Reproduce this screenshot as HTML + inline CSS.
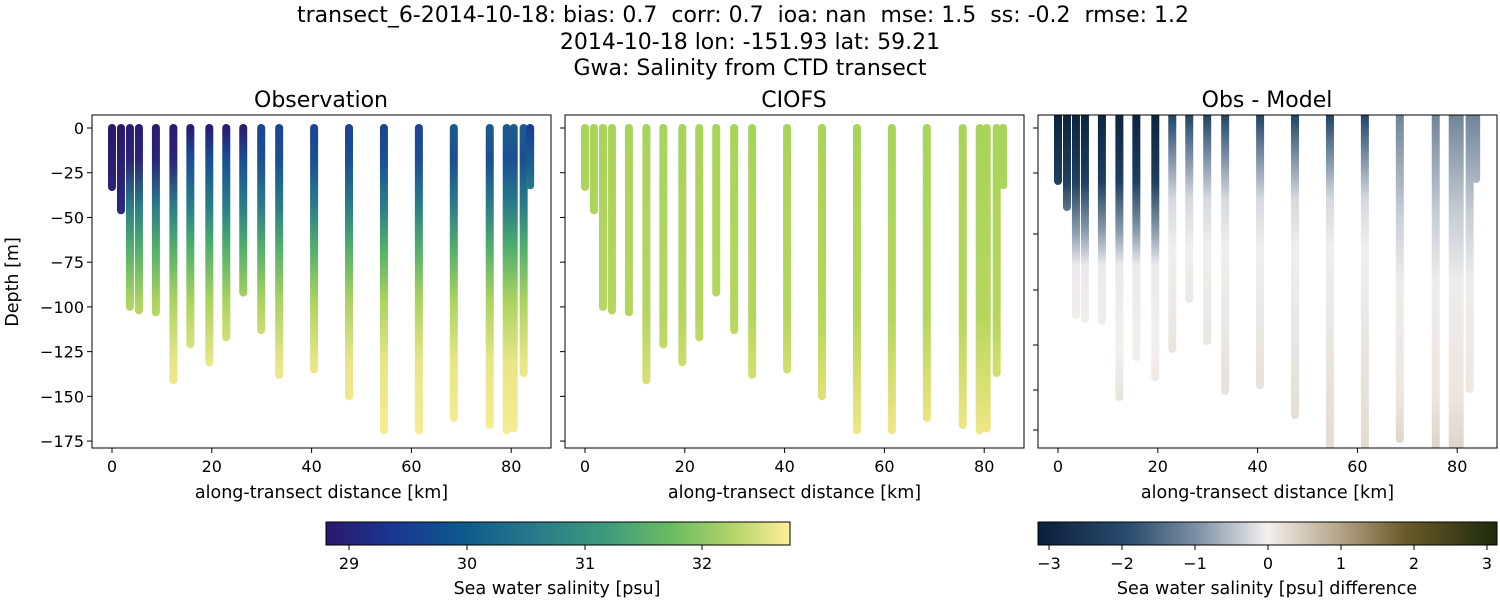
<!DOCTYPE html>
<html><head><meta charset="utf-8"><style>
body{margin:0;background:#fff;}
svg text{font-family:"DejaVu Sans","Liberation Sans",sans-serif;fill:#000;white-space:pre;}
</style></head><body>
<svg id="s" width="1500" height="600" xmlns="http://www.w3.org/2000/svg">
<defs>
<linearGradient id="hal" x1="0" x2="1" y1="0" y2="0">
<stop offset="0" stop-color="#2a186c"/><stop offset="0.15" stop-color="#1a3893"/><stop offset="0.3" stop-color="#0e5a8c"/><stop offset="0.45" stop-color="#2a7a8a"/><stop offset="0.6" stop-color="#3c9a7c"/><stop offset="0.75" stop-color="#6dbc62"/><stop offset="0.88" stop-color="#b5d46a"/><stop offset="1" stop-color="#fdef9a"/>
</linearGradient>
<linearGradient id="dif" x1="0" x2="1" y1="0" y2="0">
<stop offset="0" stop-color="#0a1f3a"/><stop offset="0.2" stop-color="#2b4d6e"/><stop offset="0.35" stop-color="#7e93a5"/><stop offset="0.5" stop-color="#f4f0ef"/><stop offset="0.65" stop-color="#b7a78c"/><stop offset="0.8" stop-color="#6b5a2a"/><stop offset="1" stop-color="#1c2a0c"/>
</linearGradient>
</defs>
<g font-size="22" text-anchor="middle">
<text x="743" y="22" xml:space="preserve">transect_6-2014-10-18: bias: 0.7  corr: 0.7  ioa: nan  mse: 1.5  ss: -0.2  rmse: 1.2</text>
<text x="750" y="49">2014-10-18 lon: -151.93 lat: 59.21</text>
<text x="750" y="75">Gwa: Salinity from CTD transect</text>
<text x="321" y="107">Observation</text>
<text x="794" y="107">CIOFS</text>
<text x="1267" y="107">Obs - Model</text>
</g>
<g id="g"></g>
</svg>
<script>
const NS="http://www.w3.org/2000/svg";
const g=document.getElementById('g');
function el(t,a,txt,par){const e=document.createElementNS(NS,t);for(const k in a)e.setAttribute(k,a[k]);if(txt!==undefined&&txt!==null)e.textContent=txt;(par||g).appendChild(e);return e;}
const km=[0,1.8,3.6,5.4,8.8,12.3,15.7,19.5,22.9,26.3,29.9,33.5,40.5,47.5,54.5,61.5,68.5,75.7,79.1,80.5,82.5,83.8];
const dep=[33,46,100,102,103,141,121,131,117,92,113,138,135,150,169,169,162,166,169,168,137,32];
let defs=document.querySelector('defs');
function grad(id,y1,y2,stops){const lg=el('linearGradient',{id:id,gradientUnits:'userSpaceOnUse',x1:0,x2:0,y1:y1,y2:y2},null,defs);stops.forEach(s=>el('stop',{offset:s[0],'stop-color':s[1]},null,lg));}
const panels=[92,565,1038];
panels.forEach((L,p)=>{
  const W=459,T=115,B=448;
  const x0=L+20;
  const cp=el('clipPath',{id:'c'+p},null,defs);el('rect',{x:L,y:T,width:W,height:B-T},null,cp);
  const gg=el('g',{'clip-path':'url(#c'+p+')'});
  km.forEach((k,i)=>{
    const x=x0+k*4.99;let y1,y2,id='p'+p+'s'+i;
    if(p<2){y1=128;y2=128+dep[i]*1.789;}else{y1=108;y2=115+dep[i]*2.0;}
    if(p==0){
      if(i<2) grad(id,128,441,[[0,'#2a186c'],[0.3,'#2a2a80'],[1,'#1a4a90']]);
      else if(i==21) grad(id,128,441,[[0,'#1a3e92'],[0.1,'#1b5a8e'],[0.2,'#2a7a8a'],[1,'#3c9a7c']]);
      else { const top=i<10?'#2a1c72':(i<16?'#1a4592':'#1b5a8e');
        grad(id,128,441,[[0,top],[0.1,i<6?'#2a2478':'#1a4f94'],[0.25,'#2a7d88'],[0.38,'#4fae6c'],[0.55,'#a9d35f'],[0.75,'#e8e686'],[1,'#f8ec94']]);}
    }
    else if(p==1){grad(id,128,441,[[0,'#a8d45a'],[0.6,'#b5d65e'],[0.8,'#d6df70'],[1,'#f3e88a']]);}
    else{
      let st;
      if(i<8) st=[[0,'#0c2440'],[0.2,'#1e3f5e'],[0.35,'#8a9cae'],[0.45,'#ebe9ec'],[0.7,'#f3efee'],[1,'#e0d8cc']];
      else if(i<16) st=[[0,'#1e4565'],[0.08,'#5a7590'],[0.25,'#d5d8de'],[0.4,'#f0eeef'],[1,'#e3dcd2']];
      else st=[[0,'#6f8597'],[0.3,'#c8ced6'],[0.5,'#eeeced'],[0.85,'#ede6e0'],[1,'#ddd4c8']];
      grad(id,115,448,st);
    }
    el('line',{x1:x,x2:x,y1:y1,y2:y2,stroke:'url(#'+id+')','stroke-width':8,'stroke-linecap':'round'},null,gg);
  });
  el('rect',{x:L,y:T,width:W,height:B-T,fill:'none',stroke:'#000','stroke-width':1});
  [0,20,40,60,80].forEach(v=>{const x=x0+v*4.99;el('line',{x1:x,x2:x,y1:B,y2:B+5,stroke:'#000'});el('text',{x:x,y:B+24,'font-size':16,'text-anchor':'middle'},v);});
  el('text',{x:L+W/2,y:B+50,'font-size':17.5,'text-anchor':'middle'},'along-transect distance [km]');
  if(p<2){[0,-25,-50,-75,-100,-125,-150,-175].forEach(v=>{const y=128-v*1.789;el('line',{x1:L-5,x2:L,y1:y,y2:y,stroke:'#000'});if(p==0)el('text',{x:L-8,y:y+6,'font-size':16,'text-anchor':'end'},v==0?'0':'\u2212'+(-v));});}
  else{[128,173,234,290,345,390,430].forEach(y=>el('line',{x1:L-5,x2:L,y1:y,y2:y,stroke:'#000'}));}
});
el('text',{x:18,y:282,'font-size':17.5,'text-anchor':'middle',transform:'rotate(-90 18 282)'},'Depth [m]');
el('rect',{x:326,y:522,width:464,height:23,fill:'url(#hal)',stroke:'#000'});
[[29,349],[30,467],[31,585],[32,702]].forEach(a=>{el('line',{x1:a[1],x2:a[1],y1:545,y2:550,stroke:'#000'});el('text',{x:a[1],y:569,'font-size':16,'text-anchor':'middle'},a[0]);});
el('text',{x:557,y:594,'font-size':17.5,'text-anchor':'middle'},'Sea water salinity [psu]');
el('rect',{x:1038,y:522,width:459,height:23,fill:'url(#dif)',stroke:'#000'});
[-3,-2,-1,0,1,2,3].forEach(v=>{const x=1268+v*73;el('line',{x1:x,x2:x,y1:545,y2:550,stroke:'#000'});el('text',{x:x,y:569,'font-size':16,'text-anchor':'middle'},v<0?'\u2212'+(-v):v);});
el('text',{x:1267,y:594,'font-size':17.5,'text-anchor':'middle'},'Sea water salinity [psu] difference');
</script>
</body></html>
